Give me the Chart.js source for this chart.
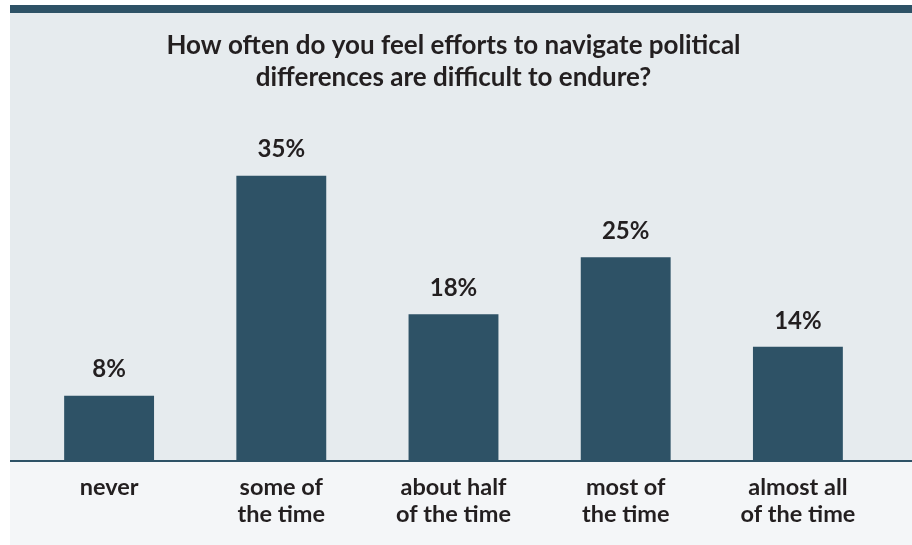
<!DOCTYPE html>
<html>
<head>
<meta charset="utf-8">
<script src="https://cdn.jsdelivr.net/npm/chart.js@4.4.1/dist/chart.umd.min.js"></script>
<style>
  html, body { margin: 0; padding: 0; background: #ffffff; }
  #wrap { width: 912px; height: 545px; position: relative; }
</style>
</head>
<body>
<div id="wrap"><canvas id="c" width="912" height="545"></canvas></div>
<script>
const categories = [["never"], ["some of", "the time"], ["about half", "of the time"], ["most of", "the time"], ["almost all", "of the time"]];
const values = [8, 35, 18, 25, 14];
const valueLabels = ["8%", "35%", "18%", "25%", "14%"];
const titleLines = ["How often do you feel efforts to navigate political", "differences are difficult to endure?"];

const DARK = '#2e5266';
const TEXT = '#231f20';

const bgPlugin = {
  id: 'bg',
  beforeDraw(chart) {
    const { ctx, width, height, chartArea } = chart;
    ctx.save();
    ctx.fillStyle = '#ffffff';
    ctx.fillRect(0, 0, width, height);
    ctx.fillStyle = DARK;
    ctx.fillRect(10, 5, width - 10, 8);
    ctx.fillStyle = '#e6ebee';
    ctx.fillRect(10, 13, width - 10, chartArea.bottom - 13);
    ctx.fillStyle = '#f4f6f8';
    ctx.fillRect(10, chartArea.bottom, width - 10, height - chartArea.bottom);
    ctx.restore();
  },
  afterDatasetsDraw(chart) {
    const { ctx, width } = chart;
    const y0 = chart.scales.y.getPixelForValue(0);
    ctx.save();
    ctx.strokeStyle = DARK;
    ctx.lineWidth = 2;
    ctx.beginPath();
    ctx.moveTo(10, y0);
    ctx.lineTo(width, y0);
    ctx.stroke();
    ctx.restore();
  }
};

const labelPlugin = {
  id: 'valueLabels',
  afterDatasetsDraw(chart) {
    const { ctx } = chart;
    const meta = chart.getDatasetMeta(0);
    ctx.save();
    ctx.font = 'bold 24px Lato';
    ctx.fillStyle = TEXT;
    ctx.textAlign = 'center';
    ctx.textBaseline = 'middle';
    meta.data.forEach((bar, i) => {
      ctx.fillText(valueLabels[i], bar.x, bar.y - 26);
    });
    ctx.restore();
  }
};

new Chart(document.getElementById('c'), {
  type: 'bar',
  data: {
    labels: categories,
    datasets: [{
      data: values,
      backgroundColor: DARK,
      borderWidth: 0,
      barPercentage: 0.9,
      categoryPercentage: 0.58
    }]
  },
  options: {
    responsive: false,
    animation: false,
    devicePixelRatio: 1,
    layout: { padding: { left: 23, right: 28, top: 0, bottom: 4 } },
    plugins: {
      legend: { display: false },
      tooltip: { enabled: false },
      title: {
        display: true,
        text: titleLines,
        color: TEXT,
        font: { family: 'Lato', weight: 'bold', size: 26, lineHeight: 1.23 },
        padding: { top: 30, bottom: 41 }
      }
    },
    scales: {
      x: {
        grid: { display: false, drawTicks: false },
        border: { display: false },
        ticks: {
          color: TEXT,
          padding: 13,
          font: { family: 'Lato', weight: 'bold', size: 23.5, lineHeight: 1.15 },
          maxRotation: 0,
          autoSkip: false
        }
      },
      y: {
        display: false,
        min: 0,
        max: 40
      }
    }
  },
  plugins: [bgPlugin, labelPlugin]
});
</script>
</body>
</html>
